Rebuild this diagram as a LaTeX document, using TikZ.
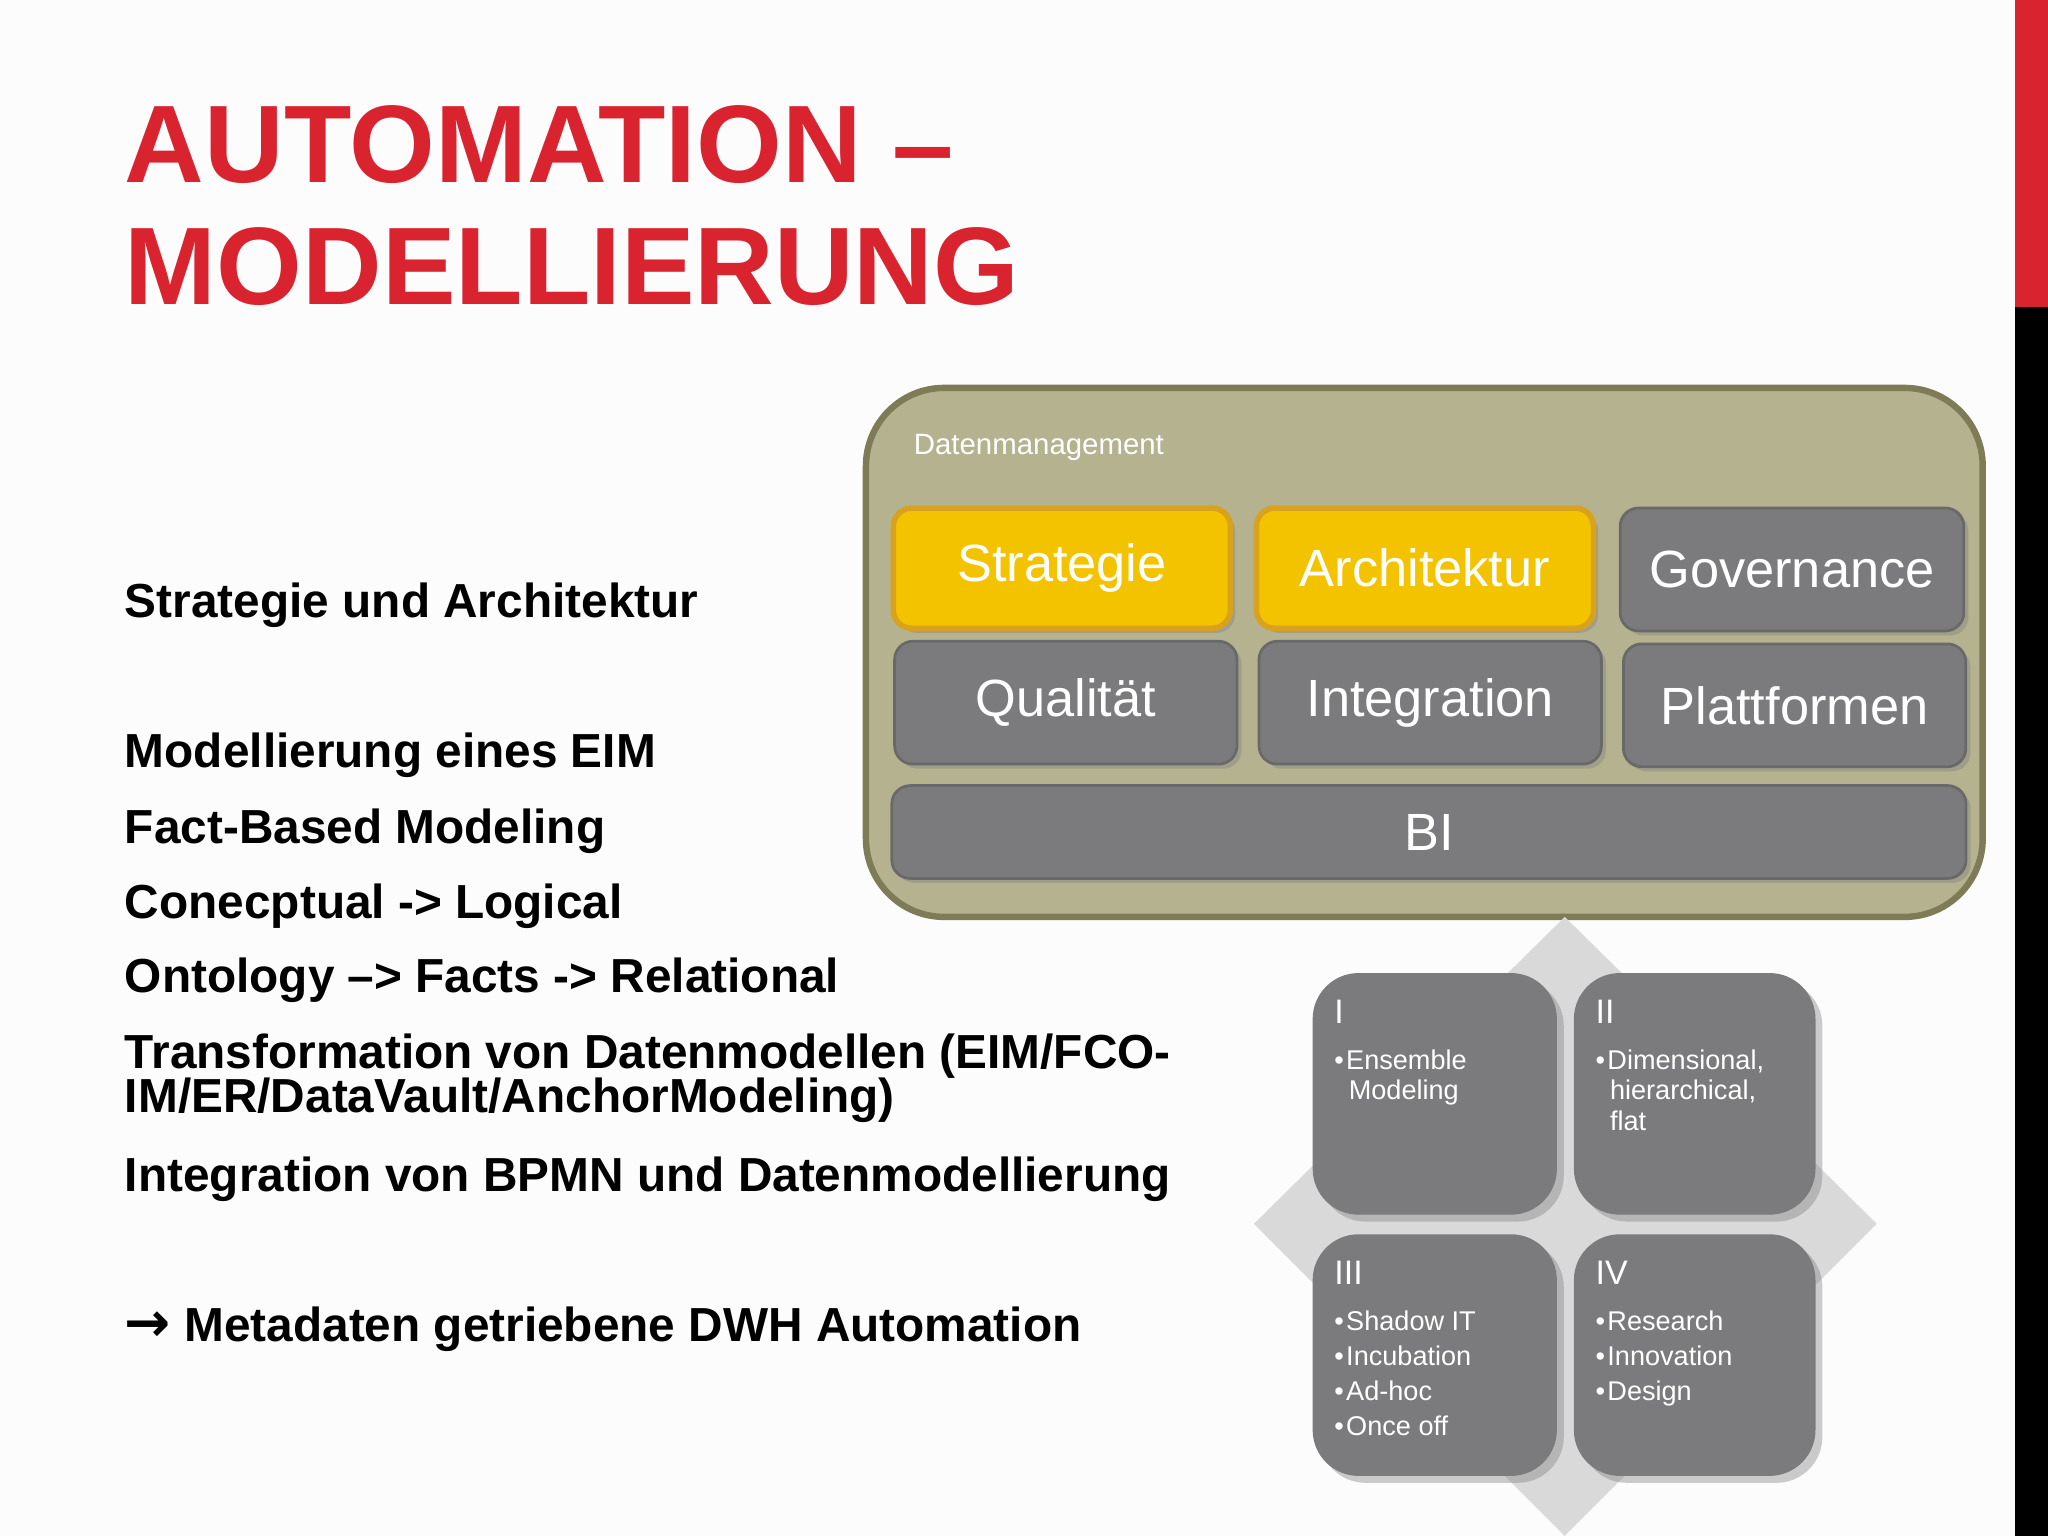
\documentclass[tikz,border=0pt]{standalone}
\usepackage{fontspec}
\setmainfont{Liberation Sans}
\usetikzlibrary{shadows}
\definecolor{tred}{HTML}{D9232E}
\definecolor{olive}{HTML}{B5B28F}
\definecolor{oliveb}{HTML}{7E7B57}
\definecolor{gold}{HTML}{F3C300}
\definecolor{goldb}{HTML}{D8A21E}
\definecolor{gbox}{HTML}{7B7B7D}
\definecolor{dia}{HTML}{D9D9D9}
\tikzset{
 tile/.style={rounded corners=4pt,fill=gbox,draw=gbox!85!black,line width=0.6pt,text=white,font=\fontsize{11.4}{13}\selectfont,drop shadow={shadow xshift=1pt,shadow yshift=-1pt,opacity=0.4}},
 goldtile/.style={tile,fill=gold,draw=goldb,line width=1.2pt},
 quad/.style={rounded corners=10pt,fill=gbox,draw=none,drop shadow={shadow xshift=1.5pt,shadow yshift=-1.5pt,opacity=0.4}},
 txt/.style={anchor=base west,font=\bfseries\fontsize{10.4}{11}\selectfont,inner sep=0pt},
 qn/.style={anchor=north west,text=white,inner sep=0pt,font=\fontsize{7.4}{8}\selectfont},
 ql/.style={anchor=north west,text=white,inner sep=0pt,align=left,font=\fontsize{5.9}{6.6}\selectfont}
}
\newcommand{\bul}{•\hspace{0.5pt}}
\begin{document}
\begin{tikzpicture}[x=0.01cm,y=-0.01cm]
\fill[white!98!gray] (0,0) rectangle (1568,1176);
\useasboundingbox (0,0) rectangle (1568,1176);
\fill[tred] (1543,0) rectangle (1568,235);
\fill[black] (1543,235) rectangle (1568,1176);
% title
\node[anchor=base west,inner sep=0pt,text=tred,font=\bfseries\fontsize{24}{26}\selectfont] (t1) at (95,140) {AUTOMATION –};
\node[anchor=base west,inner sep=0pt,text=tred,font=\bfseries\fontsize{24}{26}\selectfont] (t2) at (95,233) {MODELLIERUNG};
% left text
\node[txt] (l1) at (95,473) {Strategie und Architektur};
\node[txt] (l2) at (95,588) {Modellierung eines EIM};
\node[txt] (l3) at (95,646) {Fact-Based Modeling};
\node[txt] (l4) at (95,703) {Conecptual -> Logical};
\node[txt] (l5) at (95,760) {Ontology –> Facts -> Relational};
\node[txt] (l6) at (95,818) {Transformation von Datenmodellen (EIM/FCO-};
\node[txt] (l7) at (95,852) {IM/ER/DataVault/AnchorModeling)};
\node[txt] (l8) at (95,912) {Integration von BPMN und Datenmodellierung};
\node[txt] (l9) at (95,1027) {{\fontspec{DejaVu Sans}\bfseries\fontsize{12}{12}\selectfont →} Metadaten getriebene DWH Automation};
% data management
\draw[fill=olive,draw=oliveb,line width=1.4pt,rounded corners=17pt] (663,297) rectangle (1518,702);
\node[anchor=base west,inner sep=0pt,text=white,font=\fontsize{6.4}{7}\selectfont] (dm) at (699,348) {Datenmanagement};
\node[goldtile,minimum width=2.58cm,minimum height=0.92cm] (s) at (813,435) {Strategie};
\node[goldtile,minimum width=2.58cm,minimum height=0.92cm] (a) at (1091,435) {Architektur};
\node[tile,minimum width=2.63cm,minimum height=0.94cm] (g) at (1372,436) {Governance};
\node[tile,minimum width=2.62cm,minimum height=0.94cm] (q) at (816,538) {Qualität};
\node[tile,minimum width=2.62cm,minimum height=0.94cm] (i) at (1095,538) {Integration};
\node[tile,minimum width=2.62cm,minimum height=0.94cm] (p) at (1374,540) {Plattformen};
\node[tile,minimum width=8.22cm,minimum height=0.71cm] (bi) at (1094,637) {BI};
% diamond
\fill[dia] (1198,702) -- (1437,937) -- (1198,1176) -- (960,937) -- cycle;
\draw[quad] (1005,745) rectangle (1192,930);
\draw[quad] (1205,745) rectangle (1390,930);
\draw[quad] (1005,945) rectangle (1192,1130);
\draw[quad] (1205,945) rectangle (1390,1130);
\node[qn] (n1) at (1021,765) {I};
\node[ql] (b1) at (1021,803) {\bul Ensemble\\\hspace{0.11cm}Modeling};
\node[qn] (n2) at (1221,765) {II};
\node[ql] (b2) at (1221,803) {\bul Dimensional,\\\hspace{0.11cm}hierarchical,\\\hspace{0.11cm}flat};
\node[qn] (n3) at (1021,965) {III};
\node[ql,font=\fontsize{5.9}{7.6}\selectfont] (b3) at (1021,1003) {\bul Shadow IT\\\bul Incubation\\\bul Ad-hoc\\\bul Once off};
\node[qn] (n4) at (1221,965) {IV};
\node[ql,font=\fontsize{5.9}{7.6}\selectfont] (b4) at (1221,1003) {\bul Research\\\bul Innovation\\\bul Design};
\end{tikzpicture}
\end{document}
